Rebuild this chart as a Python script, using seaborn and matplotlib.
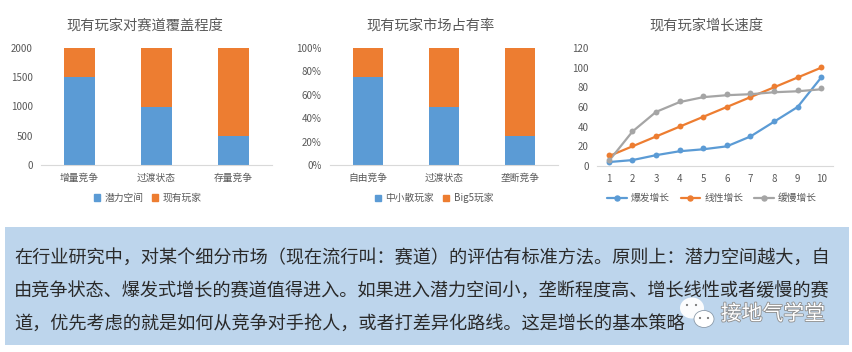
import matplotlib.pyplot as plt
import matplotlib.patches as mpatches
import matplotlib.patheffects as pe
from matplotlib.lines import Line2D
import pandas as pd
import seaborn as sns

# datos de las tres graficas
cover_cats = ['增量竞争', '过渡状态', '存量竞争']
cover_space = [1500, 1000, 500]
cover_players = [500, 1000, 1500]

share_cats = ['自由竞争', '过渡状态', '垄断竞争']
share_small = [75, 50, 25]
share_big5 = [25, 50, 75]

periods = [1, 2, 3, 4, 5, 6, 7, 8, 9, 10]
burst_line = [4, 6, 11, 15, 17, 20, 30, 45, 60, 90]
burst_dots = [4, 6, 11, 16, 18, 21, 31, 46, 60, 91]
linear_line = [10, 20, 30, 40, 50, 60, 70, 80, 90, 100]
linear_dots = [11, 21, 31, 41, 50, 60, 70, 81, 91, 101]
slow_line = [5, 35, 55, 65, 70, 72, 73, 75, 76, 78]
slow_dots = [6, 36, 55, 66, 71, 73, 74, 76, 77, 79]

body_lines = [
    '在行业研究中，对某个细分市场（现在流行叫：赛道）的评估有标准方法。原则上：潜力空间越大，自',
    '由竞争状态、爆发式增长的赛道值得进入。如果进入潜力空间小，垄断程度高、增长线性或者缓慢的赛',
    '道，优先考虑的就是如何从竞争对手抢人，或者打差异化路线。这是增长的基本策略',
]

BLUE = '#5B9BD5'
ORANGE = '#ED7D31'
GREY = '#A5A5A5'
TEXT = '#595959'
W, H = 853, 352

sns.set_style('white')
plt.rcParams['font.family'] = ['Noto Sans CJK SC', 'DejaVu Sans']

fig = plt.figure(figsize=(W / 100, H / 100), dpi=100)


def make_ax(x0, x1, y_top, y_bottom):
    # caja en pixeles de la imagen
    return fig.add_axes([x0 / W, 1 - y_bottom / H, (x1 - x0) / W, (y_bottom - y_top) / H])


def style_ax(ax, title, title_x):
    sns.despine(ax=ax, left=True)
    ax.spines['bottom'].set_color('#D9D9D9')
    ax.spines['bottom'].set_linewidth(0.8)
    ax.tick_params(axis='both', length=0, labelsize=7, labelcolor=TEXT)
    ax.tick_params(axis='y', pad=6)
    ax.tick_params(axis='x', pad=6)
    ax.set_xlabel('')
    ax.set_ylabel('')
    fig.text(title_x / W, 1 - 26 / H, title, fontsize=10.3, color=TEXT, ha='center', va='center')


def stacked(ax, cats, low, high, names, legend_x):
    sns.barplot(x=cats, y=low, color=BLUE, saturation=1, width=0.39, linewidth=0, ax=ax)
    sns.barplot(x=cats, y=high, bottom=low, color=ORANGE, saturation=1, width=0.39, linewidth=0, ax=ax)
    handles = [mpatches.Patch(color=BLUE, label=names[0]), mpatches.Patch(color=ORANGE, label=names[1])]
    fig.legend(handles=handles, loc='center', bbox_to_anchor=(legend_x / W, 1 - 198 / H), ncol=2,
               frameon=False, fontsize=7, labelcolor=TEXT, handlelength=0.6, handleheight=0.6,
               handletextpad=0.5, columnspacing=0.9)


# grafica 1
ax1 = make_ax(41, 272, 48, 165)
stacked(ax1, cover_cats, cover_space, cover_players, ['潜力空间', '现有玩家'], 148)
ax1.set_ylim(0, 2000)
ax1.set_yticks([0, 500, 1000, 1500, 2000])
style_ax(ax1, '现有玩家对赛道覆盖程度', 145)

# grafica 2
ax2 = make_ax(330, 558, 48, 165)
stacked(ax2, share_cats, share_small, share_big5, ['中小散玩家', 'Big5玩家'], 434)
ax2.set_ylim(0, 100)
ax2.set_yticks([0, 20, 40, 60, 80, 100])
ax2.set_yticklabels(['0%', '20%', '40%', '60%', '80%', '100%'])
style_ax(ax2, '现有玩家市场占有率', 431)

# grafica 3
ax3 = make_ax(597, 833, 48, 166)
series = [
    ('爆发增长', burst_line, burst_dots, BLUE),
    ('线性增长', linear_line, linear_dots, ORANGE),
    ('缓慢增长', slow_line, slow_dots, GREY),
]
handles = []
for name, line_vals, dot_vals, color in series:
    df = pd.DataFrame({'period': periods, 'line': line_vals, 'dots': dot_vals})
    sns.lineplot(data=df, x='period', y='line', color=color, linewidth=1.6, ax=ax3)
    sns.scatterplot(data=df, x='period', y='dots', color=color, s=18, linewidth=0, ax=ax3, zorder=3)
    handles.append(Line2D([], [], color=color, lw=1.6, marker='o', ms=3.6, label=name))
ax3.set_xlim(0.5, 10.5)
ax3.set_ylim(0, 120)
ax3.set_xticks(periods)
ax3.set_yticks([0, 20, 40, 60, 80, 100, 120])
style_ax(ax3, '现有玩家增长速度', 706)
fig.legend(handles=handles, loc='center', bbox_to_anchor=(712 / W, 1 - 198 / H), ncol=3, frameon=False,
           fontsize=7, labelcolor=TEXT, handlelength=2.0, handletextpad=0.45, columnspacing=1.1)

# panel de texto con coordenadas en pixeles
bg = fig.add_axes([0, 0, 1, 1], zorder=-1)
bg.set_xlim(0, W)
bg.set_ylim(H, 0)
bg.axis('off')
bg.add_patch(mpatches.Rectangle((5, 227), 844, 118, color='#BDD5EC', lw=0))

over = fig.add_axes([0, 0, 1, 1], zorder=5)
over.set_xlim(0, W)
over.set_ylim(H, 0)
over.axis('off')
over.patch.set_alpha(0)
for text, y in zip(body_lines, [258, 291, 324]):
    over.text(14, y, text, fontsize=13.1, color='#2A2A2A', ha='left', va='center')

# marca de agua
halo = [pe.withStroke(linewidth=1.2, foreground='#8C8C8C')]
over.add_patch(mpatches.Ellipse((692, 308), 24, 21, color='white', lw=0, alpha=0.95))
over.add_patch(mpatches.Ellipse((704, 319), 20, 17, facecolor='white', edgecolor='#8C9BAA', lw=0.6))
for x, y in [(687, 305), (696, 305), (700, 318), (708, 318)]:
    over.add_patch(mpatches.Circle((x, y), 1.1, color='#777777', lw=0))
over.text(773, 314, '接地气学堂', fontsize=15, color='white', ha='center', va='center', path_effects=halo)

fig.savefig('out.png', dpi=100)
